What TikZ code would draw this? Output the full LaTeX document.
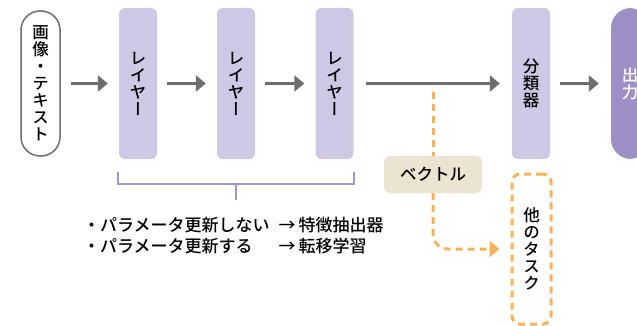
\documentclass[tikz,border=0pt]{standalone}
\usepackage{fontspec}
\newfontfamily\jp{Noto Sans CJK JP Medium}
\newfontfamily\vjp[RawFeature=+vert]{Noto Sans CJK JP Medium}
\usetikzlibrary{arrows.meta}
\definecolor{arrgray}{HTML}{6E6E6E}
\definecolor{layerfill}{HTML}{CEC8E4}
\definecolor{outfill}{HTML}{9D90C6}
\definecolor{orng}{HTML}{F6B35A}
\definecolor{beige}{HTML}{EBE4D3}
\definecolor{brk}{HTML}{A396CD}
\definecolor{pillgray}{HTML}{707070}
\tikzset{
  vtxt/.style={font=\vjp\fontsize{16.5}{17}\selectfont, align=center, inner sep=0pt},
  layerbox/.style={vtxt, fill=layerfill, rounded corners=6pt, minimum width=38pt, minimum height=151pt},
  arr/.style={draw=arrgray, line width=3.5pt, -{Triangle[length=10pt,width=16pt]}, shorten <=10pt, shorten >=11pt},
  odash/.style={draw=orng, line width=3pt, dash pattern=on 7pt off 5pt},
}
\begin{document}
\begin{tikzpicture}[x=1pt,y=-1pt]
\useasboundingbox (0,0) rectangle (637,326);
\clip (0,0) rectangle (637,326);
\node[vtxt, draw=pillgray, line width=1.5pt, fill=white, rounded corners=19pt, minimum width=39pt, minimum height=145pt] (in) at (40.5,83.5) {画\\像\\・\\テ\\キ\\ス\\ト};
\node[layerbox] (l1) at (138,83.5) {レ\\イ\\ヤ\\ー};
\node[layerbox] (l2) at (236,83.5) {レ\\イ\\ヤ\\ー};
\node[layerbox] (l3) at (334.5,83.5) {レ\\イ\\ヤ\\ー};
\node[layerbox] (cls) at (531,83.5) {分\\類\\器};
\node[layerbox, fill=outfill, text=white, rounded corners=20pt] (out) at (630,83.5) {出\\力};
\draw[arr] (in) -- (l1);
\draw[arr] (l1) -- (l2);
\draw[arr] (l2) -- (l3);
\draw[arr, shorten <=12pt, shorten >=12pt] (l3) -- (cls);
\draw[arr, shorten >=12pt] (cls) -- (out);
\node[font=\jp\fontsize{16.5}{17}\selectfont, fill=beige, rounded corners=6pt, minimum width=98pt, minimum height=37pt, inner sep=0pt] (vec) at (433,174.5) {ベクトル};
\node[vtxt, draw=orng, line width=3pt, dash pattern=on 7pt off 5pt, rounded corners=8pt, minimum width=39pt, minimum height=150pt] (task) at (531.5,249) {他\\の\\タ\\ス\\ク};
\coordinate (vtop) at (433,92);
\draw[odash] (vtop) -- (vec.north);
\draw[odash, rounded corners=15pt, -{Triangle[length=10pt,width=16pt,fill=orng]}, shorten >=11pt] (vec.south) |- (task.west);
\draw[brk, line width=1.5pt] (118,172) -- (118,184) -- (354,184) -- (354,172);
\coordinate (bmid) at (236,184);
\coordinate (btick) at (236,200);
\draw[brk, line width=1.5pt] (bmid) -- (btick);
\node[anchor=west, font=\jp\fontsize{17}{21}\selectfont, inner sep=0pt] (notes) at (83,237.5) {%
\begin{tabular}{@{}l@{\hspace{9pt}}l@{}}
・パラメータ更新しない & →\hspace{3pt}特徴抽出器\\
・パラメータ更新する & →\hspace{3pt}転移学習
\end{tabular}};
\end{tikzpicture}
\end{document}
